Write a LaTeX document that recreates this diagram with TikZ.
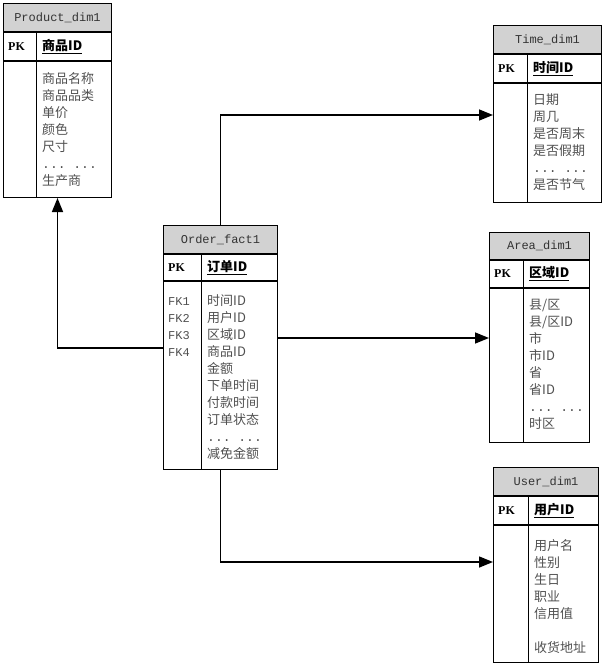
\documentclass[tikz,border=0pt]{standalone}
\usepackage{fontspec}
\setmainfont{Liberation Serif}
\setmonofont{Liberation Mono}
\newfontfamily\cjk{Noto Sans CJK SC}
\usepackage{tikz}
\usetikzlibrary{arrows.meta, positioning}
\definecolor{headgray}{HTML}{D2D2D2}
\definecolor{txtgray}{HTML}{505050}

\begin{document}
\begin{tikzpicture}[x=1pt, y=-1pt,
        box/.style={draw, line width=1pt, inner sep=0pt, anchor=north west},
        headbox/.style={box, fill=headgray, minimum height=28pt, text=black!80,
                font=\ttfamily\fontsize{12}{14}\selectfont},
        pkbox/.style={box, minimum height=28pt},
        pktext/.style={inner sep=0pt, anchor=west, font=\bfseries\fontsize{12}{14}\selectfont},
        keytext/.style={inner sep=0pt, anchor=west, font=\cjk\bfseries\fontsize{13}{14}\selectfont},
        fields/.style={inner sep=0pt, anchor=north west, align=left, text=txtgray,
                font=\cjk\fontsize{13}{17}\selectfont},
        fktext/.style={fields, font=\ttfamily\fontsize{12}{17}\selectfont},
        divider/.style={line width=1pt},
        link/.style={line width=1.5pt, -{Triangle[length=14pt, width=11pt]}}]
        \useasboundingbox (0,0) rectangle (606,664);

        %----------------  Product_dim1  ----------------
        \node[headbox, minimum width=108pt] (prodH) at (3,3) {Product\_dim1};
        \node[pkbox, minimum width=108pt] (prodK) at (prodH.south west) {};
        \node[box, minimum width=108pt, minimum height=136pt] (prodB) at (prodK.south west) {};
        \draw[divider] ([xshift=33pt]prodK.north west) -- ([xshift=33pt]prodB.south west);
        \node[pktext] (prodPK) at ([xshift=5pt]prodK.west) {PK};
        \node[keytext] (prodID) at ([xshift=39pt]prodK.west) {\underline{商品ID}};
        \node[fields] (prodF) at ([xshift=39pt, yshift=-11pt]prodB.north west)
        {商品名称\\商品品类\\单价\\颜色\\尺寸\\{\ttfamily... ...}\\生产商};

        %----------------  Time_dim1  ----------------
        \node[headbox, minimum width=108pt] (timeH) at (493,25) {Time\_dim1};
        \node[pkbox, minimum width=108pt] (timeK) at (timeH.south west) {};
        \node[box, minimum width=108pt, minimum height=119pt] (timeB) at (timeK.south west) {};
        \draw[divider] ([xshift=34pt]timeK.north west) -- ([xshift=34pt]timeB.south west);
        \node[pktext] (timePK) at ([xshift=5pt]timeK.west) {PK};
        \node[keytext] (timeID) at ([xshift=40pt]timeK.west) {\underline{时间ID}};
        \node[fields] (timeF) at ([xshift=40pt, yshift=-11pt]timeB.north west)
        {日期\\周几\\是否周末\\是否假期\\{\ttfamily... ...}\\是否节气};

        %----------------  Area_dim1  ----------------
        \node[headbox, minimum width=100pt, minimum height=27pt] (areaH) at (489,232) {Area\_dim1};
        \node[pkbox, minimum width=100pt, minimum height=27pt] (areaK) at (areaH.south west) {};
        \node[box, minimum width=100pt, minimum height=154pt] (areaB) at (areaK.south west) {};
        \draw[divider] ([xshift=34pt]areaK.north west) -- ([xshift=34pt]areaB.south west);
        \node[pktext] (areaPK) at ([xshift=5pt]areaK.west) {PK};
        \node[keytext] (areaID) at ([xshift=40pt]areaK.west) {\underline{区域ID}};
        \node[fields] (areaF) at ([xshift=40pt, yshift=-11pt]areaB.north west)
        {县/区\\县/区ID\\市\\市ID\\省\\省ID\\{\ttfamily... ...}\\时区};

        %----------------  User_dim1  ----------------
        \node[headbox, minimum width=105pt] (userH) at (493,467) {User\_dim1};
        \node[pkbox, minimum width=105pt] (userK) at (userH.south west) {};
        \node[box, minimum width=105pt, minimum height=137pt] (userB) at (userK.south west) {};
        \draw[divider] ([xshift=35pt]userK.north west) -- ([xshift=35pt]userB.south west);
        \node[pktext] (userPK) at ([xshift=5pt]userK.west) {PK};
        \node[keytext] (userID) at ([xshift=41pt]userK.west) {\underline{用户ID}};
        \node[fields] (userF) at ([xshift=41pt, yshift=-14pt]userB.north west)
        {用户名\\性别\\生日\\职业\\信用值\\[17pt]收货地址};

        %----------------  Order_fact1  ----------------
        \node[headbox, minimum width=114pt] (orderH) at (163,225) {Order\_fact1};
        \node[pkbox, minimum width=114pt, minimum height=26pt] (orderK) at (orderH.south west) {};
        \node[box, minimum width=114pt, minimum height=188pt] (orderB) at (orderK.south west) {};
        \draw[divider] ([xshift=38pt]orderK.north west) -- ([xshift=38pt]orderB.south west);
        \node[pktext] (orderPK) at ([xshift=5pt]orderK.west) {PK};
        \node[keytext] (orderID) at ([xshift=44pt]orderK.west) {\underline{订单ID}};
        \node[fktext] (orderFK) at ([xshift=5pt, yshift=-12pt]orderB.north west)
        {\rule{0pt}{12pt}FK1\\FK2\\FK3\\FK4};
        \node[fields] (orderF) at ([xshift=44pt, yshift=-12pt]orderB.north west)
        {\rule{0pt}{12pt}时间ID\\用户ID\\区域ID\\商品ID\\金额\\下单时间\\付款时间\\订单状态\\{\ttfamily... ...}\\减免金额};

        %----------------  连线  ----------------
        \draw[link] ([yshift=-67pt]orderB.north west) -| (prodB.south);
        \draw[link] (orderH.north) |- ([yshift=-32pt]timeB.north west);
        \draw[link] ([yshift=-57pt]orderB.north east) -- ([yshift=-57pt]orderB.north east -| areaB.west);
        \draw[link] (orderB.south) |- ([yshift=-37pt]userB.north west);

\end{tikzpicture}
\end{document}
